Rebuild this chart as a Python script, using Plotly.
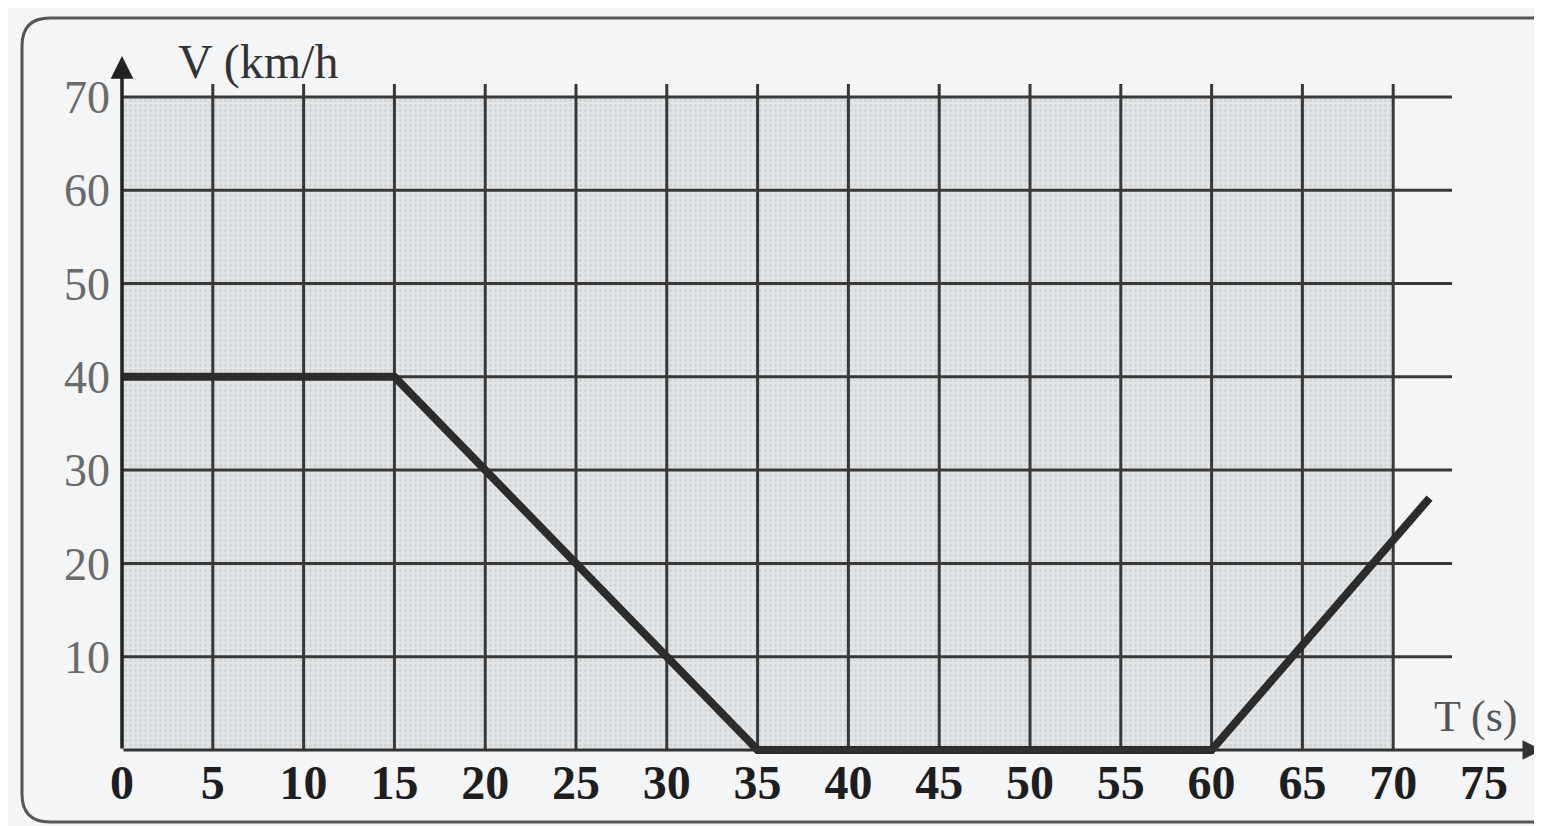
import plotly.graph_objects as go

# ---- data ----
time_s = [0, 15, 35, 60, 72]
speed_kmh = [40, 40, 0, 0, 27]
x_ticks = [0, 5, 10, 15, 20, 25, 30, 35, 40, 45, 50, 55, 60, 65, 70, 75]
y_ticks = [10, 20, 30, 40, 50, 60, 70]
x_grid = [5, 10, 15, 20, 25, 30, 35, 40, 45, 50, 55, 60, 65, 70]
y_grid = [10, 20, 30, 40, 50, 60, 70]
T_MAX_SHADE = 70
V_MAX_SHADE = 70

# ---- geometry (page px -> data); page has an 8px body margin ----
OFF = 8
W, H = 1542 - OFF, 826 - OFF
X0_PX, Y0_PX = 122 - OFF, 750 - OFF
PX_PER_T = 18.16
PX_PER_V = 9.33
def px2x(px):  # px given in reference page coordinates
    return (px - OFF - X0_PX) / PX_PER_T
def py2y(py):
    return (Y0_PX - (py - OFF)) / PX_PER_V

xr = [(0 - X0_PX) / PX_PER_T, (W - X0_PX) / PX_PER_T]
yr = [(Y0_PX - H) / PX_PER_V, Y0_PX / PX_PER_V]

GRID_COL = "#383838"
BG = "#f3f5f6"

fig = go.Figure()

# shaded, dotted background area
fig.add_trace(go.Scatter(
    x=[0, T_MAX_SHADE, T_MAX_SHADE, 0, 0], y=[0, 0, V_MAX_SHADE, V_MAX_SHADE, 0],
    mode="lines", line=dict(width=0), fill="toself",
    fillcolor="#dfe2e4",
    fillpattern=dict(shape=".", fgcolor="#c4c7c9", bgcolor="#e2e5e7", size=5, solidity=0.35),
    hoverinfo="skip", showlegend=False))

# grid lines (as one trace, drawn above the shading)
gx, gy = [], []
h_end = px2x(1452)
for v in y_grid:
    gx += [0, h_end, None]
    gy += [v, v, None]
v_top = py2y(84)
for t in x_grid:
    gx += [t, t, None]
    gy += [0, v_top, None]
fig.add_trace(go.Scatter(x=gx, y=gy, mode="lines", line=dict(color=GRID_COL, width=3),
                         hoverinfo="skip", showlegend=False))

# data line
fig.add_trace(go.Scatter(x=time_s, y=speed_kmh, mode="lines",
                         line=dict(color="#2c2c2c", width=8),
                         hoverinfo="skip", showlegend=False))

shapes = []
# outer rounded border
bx0, by0, by1, bx1 = px2x(22), py2y(18), py2y(822), px2x(1560)
rx, ry = 28 / PX_PER_T, 28 / PX_PER_V
path = (f"M {bx1},{by0} L {bx0+rx},{by0} Q {bx0},{by0} {bx0},{by0-ry} "
        f"L {bx0},{by1+ry} Q {bx0},{by1} {bx0+rx},{by1} L {bx1},{by1}")
shapes.append(dict(type="path", xref="x", yref="y", path=path,
                   line=dict(color="#555555", width=3)))

annotations = [
    # y axis with arrow
    dict(x=0, y=py2y(56), ax=0, ay=0, xref="x", yref="y", axref="x", ayref="y",
         text="", showarrow=True, arrowhead=2, arrowsize=1.3, arrowwidth=3.5, arrowcolor="#222"),
    # x axis with arrow
    dict(x=px2x(1542), y=0, ax=0, ay=0, xref="x", yref="y", axref="x", ayref="y",
         text="", showarrow=True, arrowhead=2, arrowsize=1.3, arrowwidth=3, arrowcolor="#333"),
    dict(x=px2x(176), y=py2y(62), xref="x", yref="y", xanchor="left", yanchor="middle",
         text="V (km/h", showarrow=False,
         font=dict(family="Liberation Serif", size=48, color="#333333")),
    dict(x=px2x(1432), y=py2y(716), xref="x", yref="y", xanchor="left", yanchor="middle",
         text="T (s)", showarrow=False,
         font=dict(family="Liberation Serif", size=44, color="#555555")),
]

fig.update_layout(
    width=W, height=H,
    margin=dict(l=0, r=0, t=0, b=0),
    paper_bgcolor=BG, plot_bgcolor=BG,
    shapes=shapes, annotations=annotations,
    showlegend=False,
    xaxis=dict(range=xr, domain=[0, 1], anchor="free", position=(H - Y0_PX) / H,
               tickvals=x_ticks, ticktext=[f"<b>{t}</b>" for t in x_ticks],
               showgrid=False, zeroline=False, showline=False, ticks="",
               ticklabelstandoff=0,
               tickfont=dict(family="Liberation Serif", size=48, color="#1e1e1e")),
    yaxis=dict(range=yr, domain=[0, 1], anchor="free", position=X0_PX / W,
               tickvals=y_ticks, showgrid=False, zeroline=False, showline=False, ticks="",
               ticklabelstandoff=12,
               tickfont=dict(family="Liberation Serif", size=46, color="#6a6a6a")),
)

fig.write_html("out.html")
